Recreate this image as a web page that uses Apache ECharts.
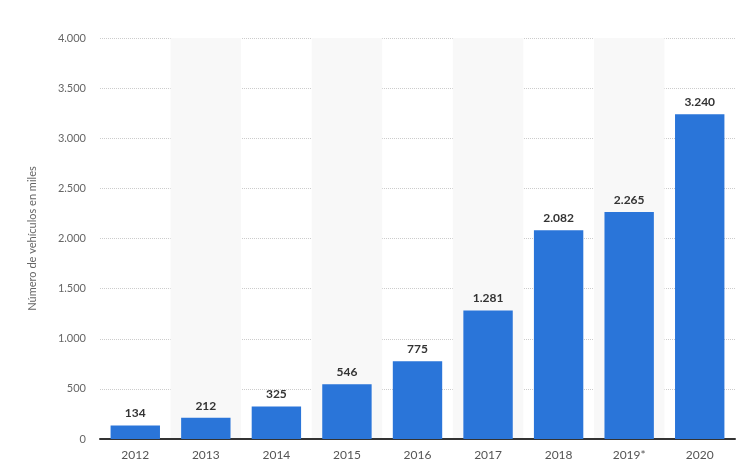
<!DOCTYPE html>
<html><head><meta charset="utf-8">
<script src="https://cdn.jsdelivr.net/npm/echarts@6/dist/echarts.min.js"></script>
<style>html,body{margin:0;padding:0;background:#fff}#c{width:750px;height:471px}</style>
</head><body><div id="c"></div>
<script>
const categories = ['2012','2013','2014','2015','2016','2017','2018','2019*','2020'];
const values = [134,212,325,546,775,1281,2082,2265,3240];
const yTicks = {min:0,max:4000,interval:500};
const fmt = v => String(v).replace(/\B(?=(\d{3})+(?!\d))/g,'.');
const chart = echarts.init(document.getElementById('c'));
chart.setOption({
  animation:false,
  grid:{left:100,right:15,top:38,bottom:32},
  xAxis:{type:'category',data:categories,
    axisLine:{lineStyle:{color:'#333',width:2}},axisTick:{show:false},
    axisLabel:{color:'#555',fontFamily:'Lato',fontSize:12,margin:10},
    splitArea:{show:true,areaStyle:{color:['rgba(255,255,255,0)','#f8f8f8']}}},
  yAxis:{type:'value',min:yTicks.min,max:yTicks.max,interval:yTicks.interval,
    name:'Número de vehículos en miles',nameLocation:'middle',nameGap:62,
    nameTextStyle:{color:'#666',fontFamily:'Lato',fontSize:11},
    axisLine:{show:false},axisTick:{show:false},
    axisLabel:{color:'#666',fontFamily:'Lato',fontSize:11,margin:14,formatter:fmt},
    splitLine:{lineStyle:{color:'#ccc',type:'dotted'}}},
  series:[{type:'bar',data:values,barWidth:'70%',
    itemStyle:{color:'#2a75d9'},
    label:{show:true,position:'top',distance:6,color:'#333',fontWeight:'bold',fontFamily:'Lato',fontSize:12,formatter:p=>fmt(p.value)}}]
});
</script></body></html>
